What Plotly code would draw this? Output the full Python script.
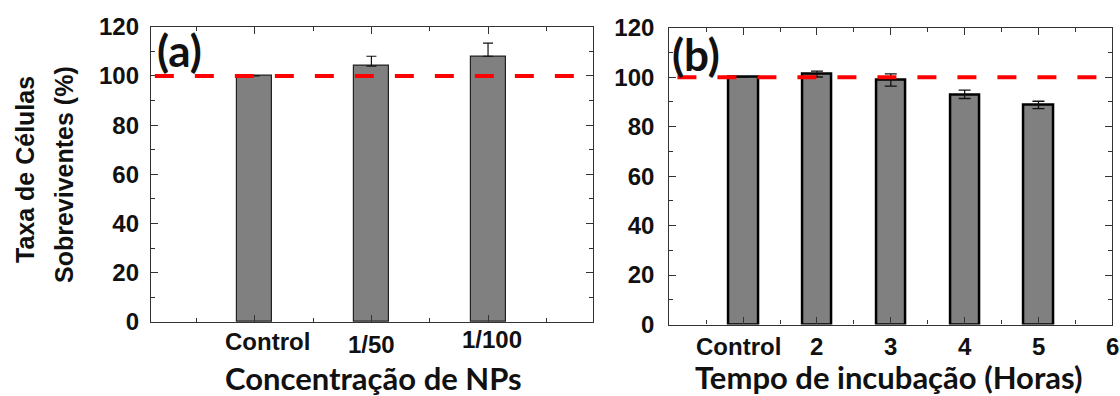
import plotly.graph_objects as go

# ---- data ----
a_pos = [0, 1, 2]
a_labels = ["Control", "1/50", "1/100"]
a_values = [100, 104, 108]
a_err = [0, 4, 5.3]

b_pos = [1, 2, 3, 4, 5]
b_values = [100, 101.3, 98.9, 93.1, 88.8]
b_err = [0, 1.2, 2.5, 1.7, 1.5]
b_tickvals = [1, 2, 3, 4, 5, 6]
b_ticktext = ["Control", "2", "3", "4", "5", "6"]

y_ticks = [0, 20, 40, 60, 80, 100, 120]
ref_level = 100

W, H = 1120, 396
def px(x): return x / W
def py(y): return 1 - y / H

AX = dict(family="Liberation Sans, Arial", size=24, color="#111", weight="bold")
TT = dict(family="Lato, Carlito, Calibri", size=31, color="#111", weight="bold")

fig = go.Figure()
fig.add_trace(go.Bar(
    x=a_pos, y=a_values, width=0.30, xaxis="x", yaxis="y",
    marker=dict(color="#808080", line=dict(color="#222", width=1.2)),
    error_y=dict(type="data", array=a_err, arrayminus=[0, 0, 0], symmetric=False,
                 color="#111", thickness=1.2, width=5),
    showlegend=False))
fig.add_trace(go.Bar(
    x=b_pos, y=b_values, width=0.40, xaxis="x2", yaxis="y2",
    marker=dict(color="#808080", line=dict(color="#000", width=2.5)),
    error_y=dict(type="data", array=b_err, color="#111", thickness=1.3, width=6),
    showlegend=False))

common_axis = dict(showline=True, linecolor="#333", linewidth=1.3, mirror="ticks",
                   ticks="inside", tickcolor="#333", tickwidth=1.2, ticklen=7,
                   showgrid=False, zeroline=False, automargin=False)

fig.update_layout(
    width=W, height=H, margin=dict(l=0, r=0, t=0, b=0, pad=0, autoexpand=False),
    plot_bgcolor="white", paper_bgcolor="white", bargap=0,
    xaxis=dict(domain=[px(151), px(593)], range=[-0.89, 2.9], anchor="y",
               tickvals=a_pos, showticklabels=False,
               minor=dict(ticks="inside", ticklen=4, tickcolor="#333",
                          tickvals=[-0.5, 0.5, 1.5, 2.5]),
               **common_axis),
    yaxis=dict(domain=[py(322), py(26.7)], range=[0, 120], anchor="x",
               tickvals=y_ticks, tickfont=AX, ticklabelstandoff=6,
               minor=dict(ticks="inside", ticklen=4, tickcolor="#333", dtick=10, tick0=0),
               **common_axis),
    xaxis2=dict(domain=[px(669.3), px(1112.3)], range=[0, 6], anchor="y2",
                tickvals=b_tickvals, showticklabels=False,
                minor=dict(ticks="inside", ticklen=4, tickcolor="#333",
                           tickvals=[0.5, 1.5, 2.5, 3.5, 4.5, 5.5]),
                **common_axis),
    yaxis2=dict(domain=[py(324.5), py(27.8)], range=[0, 120], anchor="x2",
                tickvals=y_ticks, tickfont=AX, ticklabelstandoff=9,
                minor=dict(ticks="inside", ticklen=4, tickcolor="#333", dtick=10, tick0=0),
                **common_axis),
)

# reference dashed lines at 100%
fig.add_shape(type="line", xref="x", yref="y", x0=-0.857, x1=2.76, y0=ref_level, y1=ref_level,
              line=dict(color="#ff0000", width=4, dash="19px,21px"))
fig.add_shape(type="line", xref="x2", yref="y2", x0=0.11, x1=5.86, y0=ref_level, y1=ref_level,
              line=dict(color="#ff0000", width=4, dash="19px,21px"))

# x tick labels
a_shift = [13, 0, 4]
a_ypix = [341, 344, 339.5]
for p, t, s, yy in zip(a_pos, a_labels, a_shift, a_ypix):
    fig.add_annotation(x=p, y=py(yy), xref="x", yref="paper", text=t, showarrow=False,
                       xshift=s, xanchor="center", yanchor="middle", font=AX)
b_shift = [-5, 0, 0, 0, 0, 0]
for p, t, s in zip(b_tickvals, b_ticktext, b_shift):
    fig.add_annotation(x=p, y=py(346), xref="x2", yref="paper", text=t, showarrow=False,
                       xshift=s, xanchor="center", yanchor="middle", font=AX)

# axis titles
fig.add_annotation(x=px(373), y=py(378), xref="paper", yref="paper", text="Concentração de NPs",
                   showarrow=False, xanchor="center", yanchor="middle", font=TT)
fig.add_annotation(x=px(888), y=py(377), xref="paper", yref="paper", text="Tempo de incubação (Horas)",
                   showarrow=False, xanchor="center", yanchor="middle", font=TT)
YT = dict(family="Liberation Sans, Arial", size=25, color="#111", weight="bold")
fig.add_annotation(x=px(25), y=py(170), xref="paper", yref="paper", text="Taxa de Células",
                   showarrow=False, textangle=-90, xanchor="center", yanchor="middle", font=YT)
fig.add_annotation(x=px(64), y=py(175), xref="paper", yref="paper", text="Sobreviventes (%)",
                   showarrow=False, textangle=-90, xanchor="center", yanchor="middle", font=YT)

# panel labels
PL = dict(family="Lato, Carlito, Calibri", size=44, color="#111", weight="bold")
fig.add_annotation(x=px(155), y=py(50), xref="paper", yref="paper", text="(a)",
                   showarrow=False, xanchor="left", yanchor="middle", font=PL)
fig.add_annotation(x=px(670), y=py(54), xref="paper", yref="paper", text="(b)",
                   showarrow=False, xanchor="left", yanchor="middle", font=PL)

fig.write_html("out.html")
